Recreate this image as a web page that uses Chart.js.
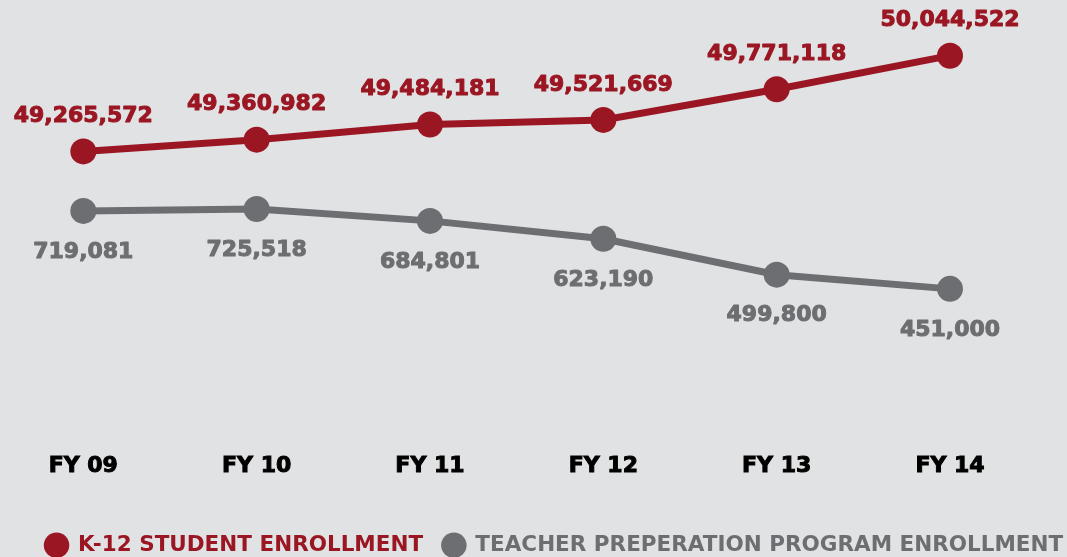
<!DOCTYPE html>
<html>
<head>
<meta charset="utf-8">
<script src="https://cdn.jsdelivr.net/npm/chart.js@4.4.1/dist/chart.umd.min.js"></script>
<style>
  html, body { margin: 0; padding: 0; background: #e1e2e4; }
  #wrap { width: 1067px; height: 557px; }
</style>
</head>
<body>
<div id="wrap"><canvas id="enroll"></canvas></div>
<script>
// fiscal years and enrollment counts
const fiscalYears = ['FY 09', 'FY 10', 'FY 11', 'FY 12', 'FY 13', 'FY 14'];
const k12Enrollment = [49265572, 49360982, 49484181, 49521669, 49771118, 50044522];
const teacherPrepEnrollment = [719081, 725518, 684801, 623190, 499800, 451000];

const RED = '#9b1623';
const GRAY = '#6d6e71';
const FONT = "'DejaVu Sans', sans-serif";

// value labels: red above the point, gray below
const valueLabels = {
  id: 'valueLabels',
  afterDatasetsDraw(chart) {
    const ctx = chart.ctx;
    ctx.save();
    ctx.font = 'bold 22px ' + FONT;
    ctx.textAlign = 'center';
    ctx.textBaseline = 'middle';
    ctx.lineWidth = 1;
    ctx.lineJoin = 'round';
    chart.data.datasets.forEach((ds, i) => {
      const meta = chart.getDatasetMeta(i);
      const dy = ds.labelOffset;
      ctx.fillStyle = ds.borderColor;
      ctx.strokeStyle = ds.borderColor;
      meta.data.forEach((pt, j) => {
        const txt = ds.data[j].y.toLocaleString('en-US');
        ctx.strokeText(txt, pt.x, pt.y + dy);
        ctx.fillText(txt, pt.x, pt.y + dy);
      });
    });
    ctx.restore();
  }
};

new Chart(document.getElementById('enroll'), {
  type: 'line',
  data: {
    datasets: [
      {
        label: 'K-12 STUDENT ENROLLMENT',
        data: k12Enrollment.map((v, i) => ({ x: i, y: v })),
        yAxisID: 'yK12',
        borderColor: RED,
        backgroundColor: RED,
        pointBackgroundColor: RED,
        labelOffset: -35
      },
      {
        label: 'TEACHER PREPERATION PROGRAM ENROLLMENT',
        data: teacherPrepEnrollment.map((v, i) => ({ x: i, y: v })),
        yAxisID: 'yTeach',
        borderColor: GRAY,
        backgroundColor: GRAY,
        pointBackgroundColor: GRAY,
        labelOffset: 41
      }
    ]
  },
  options: {
    responsive: true,
    maintainAspectRatio: false,
    animation: false,
    layout: { autoPadding: false, padding: { left: 24, right: -18, top: 0, bottom: -9 } },
    elements: {
      line: { borderWidth: 7, tension: 0 },
      point: { radius: 13, borderWidth: 0, hoverRadius: 13 }
    },
    scales: {
      x: {
        type: 'linear',
        min: -0.3422,
        max: 5.675,
        grid: { display: false, drawTicks: false },
        border: { display: false },
        afterBuildTicks: (scale) => { scale.ticks = fiscalYears.map((_, i) => ({ value: i })); },
        afterFit: (scale) => { scale.height += 22; },
        ticks: {
          color: '#000',
          font: { family: FONT, size: 22, weight: 'bold' },
          textStrokeColor: '#000',
          textStrokeWidth: 1,
          padding: 13,
          autoSkip: false,
          maxRotation: 0,
          callback: (v) => fiscalYears[v]
        }
      },
      yK12: { display: false, min: 46916000, max: 50497700 },
      yTeach: { display: false, min: -69100, max: 1444400 }
    },
    plugins: {
      tooltip: { enabled: false },
      legend: {
        position: 'bottom',
        labels: {
          usePointStyle: true,
          boxWidth: 21.5,
          boxHeight: 18,
          padding: 20,
          font: { family: FONT, size: 21.5, weight: 'bold' },
          generateLabels: (chart) => chart.data.datasets.map((ds, i) => ({
            text: ds.label,
            fillStyle: ds.borderColor,
            strokeStyle: ds.borderColor,
            lineWidth: 0,
            pointStyle: 'circle',
            fontColor: ds.borderColor,
            datasetIndex: i,
            hidden: false
          }))
        }
      }
    }
  },
  plugins: [valueLabels]
});
</script>
</body>
</html>
